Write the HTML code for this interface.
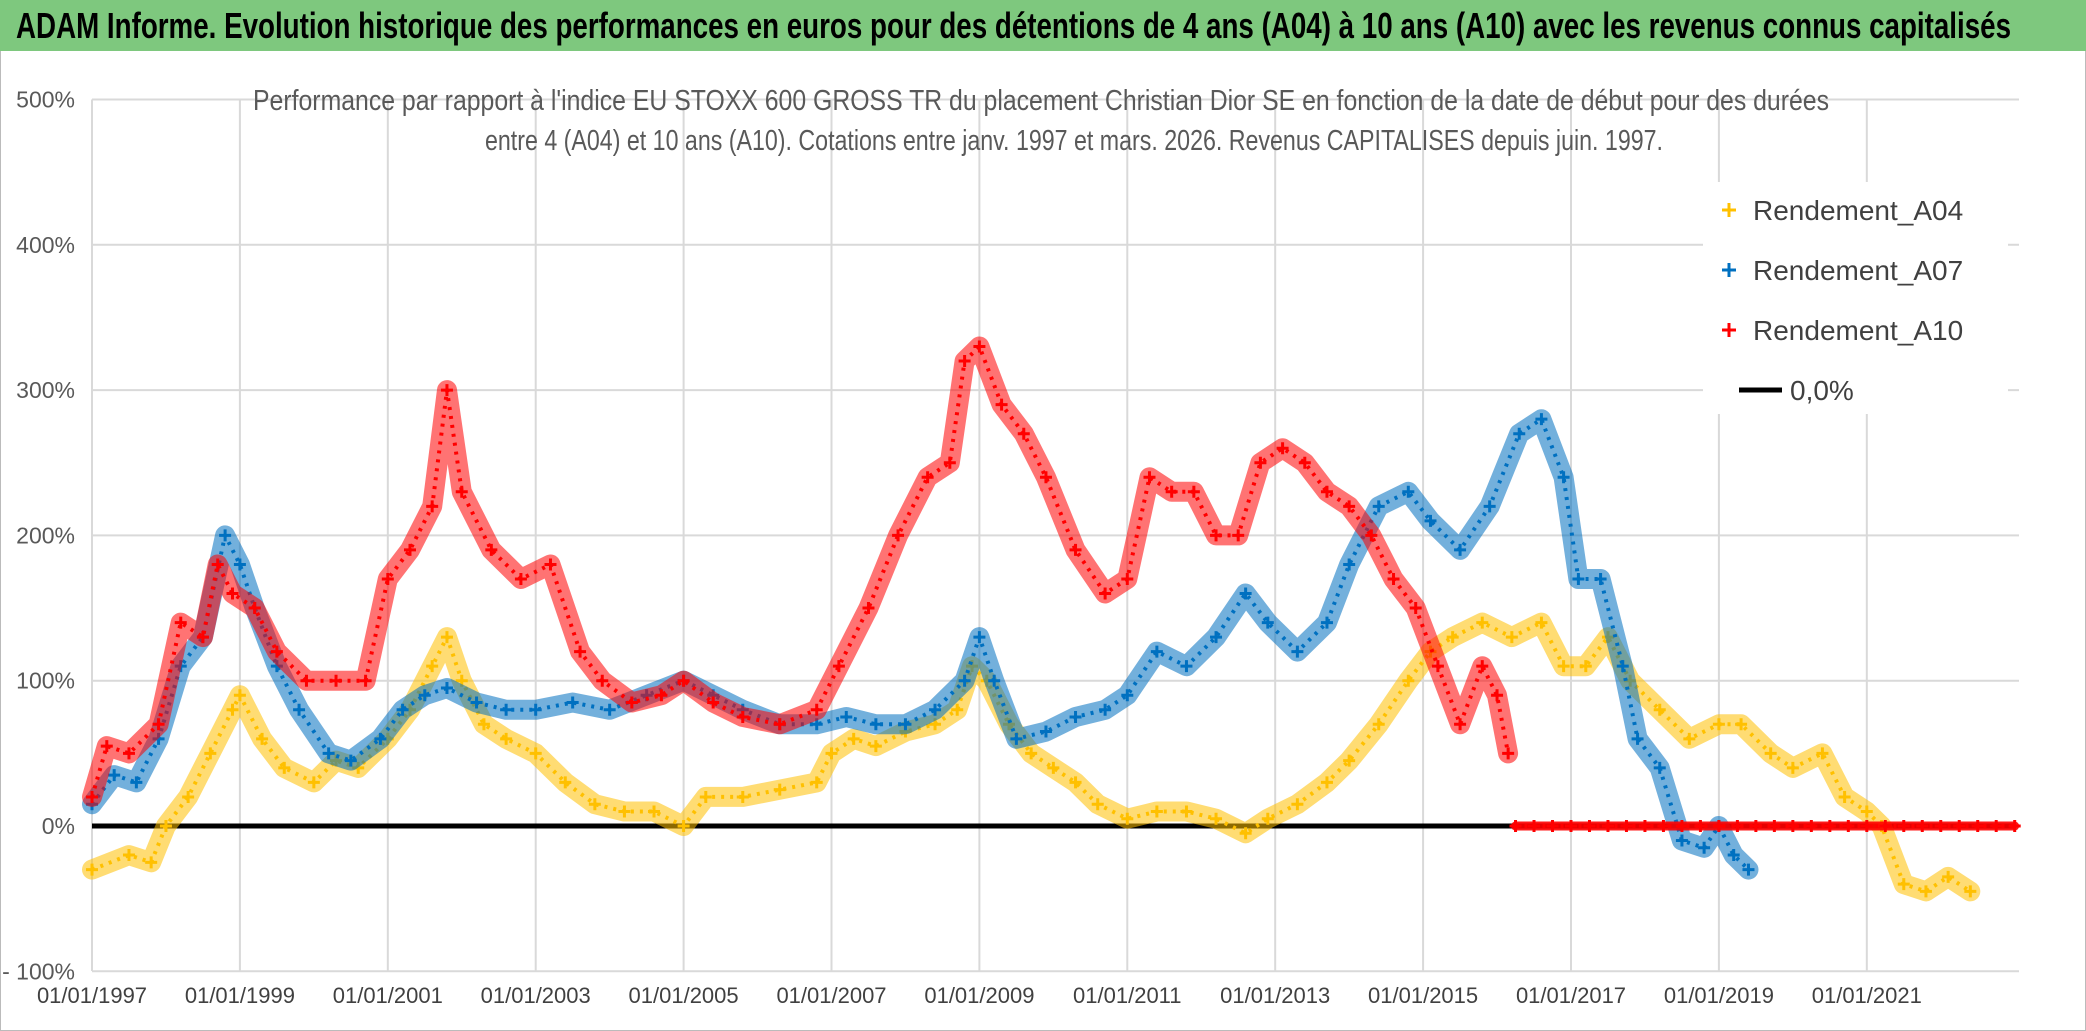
<!DOCTYPE html>
<html><head><meta charset="utf-8"><style>
html,body{margin:0;padding:0;background:#fff;}
svg{display:block;font-family:"Liberation Sans Narrow","Liberation Sans",sans-serif;}
</style></head><body>
<svg id="chart" width="2086" height="1031" viewBox="0 0 2086 1031">
<rect x="0.5" y="0.5" width="2085" height="1030" fill="#fff" stroke="#bbb"/>
<rect x="0" y="0" width="2086" height="51" fill="#7ec87e"/>
<text x="16" y="38" font-size="36" font-weight="bold" fill="#000" textLength="1995" lengthAdjust="spacingAndGlyphs">ADAM Informe. Evolution historique des performances en euros pour des détentions de 4 ans (A04) à 10 ans (A10) avec les revenus connus capitalisés</text>
<g id="grid"></g>
<g id="yaxis"></g>
<g id="xaxis"></g>
<text x="1041" y="110" font-size="29" fill="#595959" text-anchor="middle" textLength="1576" lengthAdjust="spacingAndGlyphs">Performance par rapport à l'indice EU STOXX 600 GROSS TR  du placement Christian Dior SE en fonction de la date de début pour des durées</text>
<text x="1074" y="150" font-size="29" fill="#595959" text-anchor="middle" textLength="1178" lengthAdjust="spacingAndGlyphs">entre 4 (A04) et 10 ans (A10). Cotations entre janv. 1997 et mars. 2026. Revenus CAPITALISES depuis juin. 1997.</text>
<g id="series"></g>
<g id="legend"></g>
</svg>
<script>
const yTicks = [-100, 0, 100, 200, 300, 400, 500];
const yTickLabels = ["- 100%", "0%", "100%", "200%", "300%", "400%", "500%"];
const xTicks = [1997, 1999, 2001, 2003, 2005, 2007, 2009, 2011, 2013, 2015, 2017, 2019, 2021];
const xTickLabels = ["01/01/1997","01/01/1999","01/01/2001","01/01/2003","01/01/2005","01/01/2007","01/01/2009","01/01/2011","01/01/2013","01/01/2015","01/01/2017","01/01/2019","01/01/2021"];

const a04Dates = [1997.0,1997.5,1997.8,1998.0,1998.3,1998.6,1998.9,1999.0,1999.3,1999.6,2000.0,2000.3,2000.6,2001.0,2001.3,2001.6,2001.8,2002.0,2002.3,2002.6,2003.0,2003.4,2003.8,2004.2,2004.6,2005.0,2005.3,2005.8,2006.3,2006.8,2007.0,2007.3,2007.6,2008.0,2008.4,2008.7,2008.9,2009.1,2009.4,2009.7,2010.0,2010.3,2010.6,2011.0,2011.4,2011.8,2012.2,2012.6,2012.9,2013.3,2013.7,2014.0,2014.4,2014.8,2015.1,2015.4,2015.8,2016.2,2016.6,2016.9,2017.2,2017.5,2017.8,2018.2,2018.6,2019.0,2019.3,2019.7,2020.0,2020.4,2020.7,2021.0,2021.2,2021.5,2021.8,2022.1,2022.4];
const a04Values = [-30,-20,-25,0,20,50,80,90,60,40,30,45,40,60,80,110,130,100,70,60,50,30,15,10,10,0,20,20,25,30,50,60,55,65,70,80,110,100,70,50,40,30,15,5,10,10,5,-5,5,15,30,45,70,100,120,130,140,130,140,110,110,130,100,80,60,70,70,50,40,50,20,10,0,-40,-45,-35,-45];

const a07Dates = [1997.0,1997.3,1997.6,1997.9,1998.2,1998.5,1998.8,1999.0,1999.2,1999.5,1999.8,2000.2,2000.5,2000.9,2001.2,2001.5,2001.8,2002.2,2002.6,2003.0,2003.5,2004.0,2004.5,2005.0,2005.4,2005.8,2006.3,2006.8,2007.2,2007.6,2008.0,2008.4,2008.8,2009.0,2009.2,2009.5,2009.9,2010.3,2010.7,2011.0,2011.4,2011.8,2012.2,2012.6,2012.9,2013.3,2013.7,2014.0,2014.4,2014.8,2015.1,2015.5,2015.9,2016.3,2016.6,2016.9,2017.1,2017.4,2017.7,2017.9,2018.2,2018.5,2018.8,2019.0,2019.2,2019.4];
const a07Values = [15,35,30,60,110,130,200,180,150,110,80,50,45,60,80,90,95,85,80,80,85,80,90,100,90,80,70,70,75,70,70,80,100,130,100,60,65,75,80,90,120,110,130,160,140,120,140,180,220,230,210,190,220,270,280,240,170,170,110,60,40,-10,-15,0,-20,-30];

const a10Dates = [1997.0,1997.2,1997.5,1997.9,1998.2,1998.5,1998.7,1998.9,1999.2,1999.5,1999.9,2000.3,2000.7,2001.0,2001.3,2001.6,2001.8,2002.0,2002.4,2002.8,2003.2,2003.6,2003.9,2004.3,2004.7,2005.0,2005.4,2005.8,2006.3,2006.8,2007.1,2007.5,2007.9,2008.3,2008.6,2008.8,2009.0,2009.3,2009.6,2009.9,2010.3,2010.7,2011.0,2011.3,2011.6,2011.9,2012.2,2012.5,2012.8,2013.1,2013.4,2013.7,2014.0,2014.3,2014.6,2014.9,2015.2,2015.5,2015.8,2016.0,2016.15];
const a10Values = [20,55,50,70,140,130,180,160,150,120,100,100,100,170,190,220,300,230,190,170,180,120,100,85,90,100,85,75,70,80,110,150,200,240,250,320,330,290,270,240,190,160,170,240,230,230,200,200,250,260,250,230,220,200,170,150,110,70,110,90,50];
const a10ZeroDates = [2016.25,2016.5,2016.75,2017.0,2017.25,2017.5,2017.75,2018.0,2018.25,2018.5,2018.75,2019.0,2019.25,2019.5,2019.75,2020.0,2020.25,2020.5,2020.75,2021.0,2021.25,2021.5,2021.75,2022.0,2022.25,2022.5,2022.75,2023.0];
const a10ZeroValues = [0,0,0,0,0,0,0,0,0,0,0,0,0,0,0,0,0,0,0,0,0,0,0,0,0,0,0,0];

const X0 = 92, PX_YEAR = 73.95, Y0 = 826, PX_PCT = 1.453;
const PLOT_R = 2019, PLOT_T = 99.5, PLOT_B = 971;
function xs(t){ return X0 + (t - 1997) * PX_YEAR; }
function ys(v){ return Y0 - v * PX_PCT; }
const NS = "http://www.w3.org/2000/svg";
function mk(tag, attrs, parent){ const e=document.createElementNS(NS,tag); for(const k in attrs) e.setAttribute(k,attrs[k]); parent.appendChild(e); return e; }

const grid = document.getElementById('grid');
const yaxis = document.getElementById('yaxis');
const xaxis = document.getElementById('xaxis');
yTicks.forEach((v,i)=>{
  const l = mk('line',{x1:X0,x2:PLOT_R,y1:ys(v),y2:ys(v),stroke:'#d9d9d9','stroke-width':2},grid);
  
  
  const t = mk('text',{x:75,y:ys(v)+8,'font-size':23,fill:'#595959','text-anchor':'end'},yaxis);
  t.textContent = yTickLabels[i];
  
  
});
xTicks.forEach((tv,i)=>{
  const l = mk('line',{x1:xs(tv),x2:xs(tv),y1:PLOT_T,y2:PLOT_B,stroke:'#d9d9d9','stroke-width':2},grid);
  
  
  const t = mk('text',{x:xs(tv),y:1003,'font-size':22,fill:'#404040','text-anchor':'middle'},xaxis);
  t.textContent = xTickLabels[i];
  
  
});

const series = document.getElementById('series');
const zl = mk('line',{x1:X0,x2:PLOT_R-4,y1:ys(0),y2:ys(0),stroke:'#000','stroke-width':5},series);



function drawSeries(dates, vals, color, name, bandW, op){
  const g = mk('g',{},series);
  
  
  const pts = dates.map((d,i)=>xs(d).toFixed(1)+','+ys(vals[i]).toFixed(1)).join(' ');
  mk('polyline',{points:pts,fill:'none',stroke:color,'stroke-width':bandW,'stroke-opacity':op,'stroke-linejoin':'round','stroke-linecap':'round'},g);
  mk('polyline',{points:pts,fill:'none',stroke:color,'stroke-width':4,'stroke-dasharray':'3 6','stroke-linejoin':'round'},g);
  dates.forEach((d,i)=>{
    const x=xs(d), y=ys(vals[i]);
    const p = mk('path',{d:`M${x-6},${y}H${x+6}M${x},${y-6}V${y+6}`,stroke:color,'stroke-width':3},g);
    
    
  });
}
drawSeries(a04Dates,a04Values,'#ffc000','series-a04',20,0.55);
drawSeries(a07Dates,a07Values,'#0070c0','series-a07',20,0.55);
drawSeries(a10Dates,a10Values,'#ff0000','series-a10',20,0.55);
drawSeries(a10ZeroDates,a10ZeroValues,'#ff0000','series-a10-zero',9,0.9);

const legend = document.getElementById('legend');
const lb = mk('rect',{x:1703,y:182,width:305,height:232,fill:'#fff'},legend);


const legNames = ["Rendement_A04","Rendement_A07","Rendement_A10","0,0%"];
const legColors = ['#ffc000','#0070c0','#ff0000','#000'];
legNames.forEach((n,i)=>{
  const y = 210 + i*60;
  const g = mk('g',{},legend);
  
  
  if(i<3){
    mk('path',{d:`M${1722},${y}H${1736}M${1729},${y-7}V${y+7}`,stroke:legColors[i],'stroke-width':3},g);
  } else {
    mk('line',{x1:1739,x2:1782,y1:y,y2:y,stroke:'#000','stroke-width':5},g);
  }
  const t = mk('text',{x:i<3?1753:1790,y:y+10,'font-size':28,fill:'#404040'},g);
  t.textContent = n;
});
</script>
</body></html>
